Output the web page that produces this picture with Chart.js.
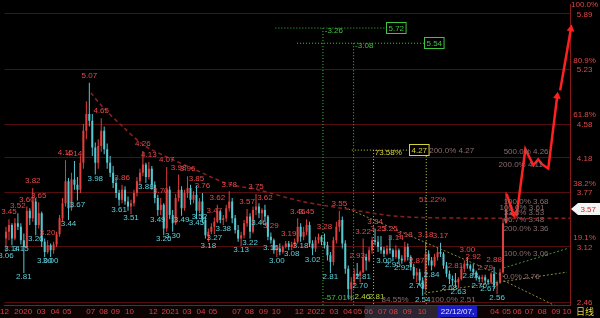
<!DOCTYPE html>
<html>
<head>
<meta charset="utf-8">
<script src="https://cdn.jsdelivr.net/npm/chart.js@4.4.0/dist/chart.umd.min.js"></script>
<style>
  html, body { margin: 0; padding: 0; background: #000; }
</style>
</head>
<body>
<canvas id="chart" width="600" height="318"></canvas>
<script>
// --- candles (one bar per week, x = week index) ---
const opens  = [3.22,3.30,3.38,3.22,3.40,3.36,3.20,3.12,3.55,3.46,3.66,3.38,3.52,3.18,3.06,3.14,3.08,3.15,3.27,3.46,
                3.64,3.90,3.58,3.92,3.86,3.80,4.12,4.50,4.70,4.62,4.30,4.12,4.32,4.50,4.28,4.12,4.00,3.88,3.76,3.68,
                3.80,3.66,3.60,3.64,3.76,3.90,4.00,4.10,3.95,4.05,3.86,3.70,3.56,3.62,3.34,3.80,3.50,3.40,3.70,3.80,
                3.58,3.76,3.82,3.68,3.74,3.55,3.66,3.44,3.26,3.30,3.36,3.42,3.54,3.44,3.46,3.58,3.66,3.46,3.32,3.22,
                3.26,3.40,3.48,3.30,3.56,3.60,3.52,3.56,3.48,3.24,3.20,3.08,3.10,3.06,3.12,3.16,3.12,3.15,3.18,3.36,
                3.24,3.30,3.38,3.16,3.10,3.20,3.24,3.18,3.14,3.02,2.94,3.20,3.36,3.44,3.16,2.86,2.62,2.70,2.80,2.78,
                2.82,3.00,2.96,3.08,3.20,3.18,3.12,3.08,3.04,3.10,3.08,3.00,3.08,2.98,2.96,3.12,3.00,2.88,2.78,2.82,
                2.72,2.62,3.04,2.96,2.90,3.00,3.06,3.04,2.90,2.80,2.74,2.72,2.70,2.74,2.86,2.92,2.90,2.86,2.82,2.76,
                2.74,2.76,2.72,2.70,2.80,2.66,2.70,2.82,3.40];
const highs  = [3.36,3.45,3.40,3.46,3.52,3.40,3.28,3.60,3.58,3.82,3.70,3.65,3.54,3.22,3.20,3.16,3.18,3.30,3.50,3.70,
                4.15,3.94,4.00,4.14,3.95,4.20,4.58,4.85,5.07,4.70,4.36,4.40,4.65,4.55,4.35,4.20,4.08,3.95,3.80,3.86,
                3.84,3.72,3.68,3.80,3.95,4.05,4.26,4.12,4.13,4.08,3.90,3.74,3.70,3.64,4.07,3.84,3.56,3.75,3.98,3.84,
                3.80,3.96,3.86,3.78,3.85,3.70,3.76,3.48,3.34,3.40,3.47,3.62,3.56,3.50,3.62,3.78,3.70,3.50,3.38,3.30,
                3.44,3.57,3.52,3.60,3.75,3.64,3.58,3.62,3.50,3.29,3.22,3.14,3.16,3.14,3.19,3.19,3.18,3.22,3.46,3.40,
                3.36,3.45,3.42,3.20,3.24,3.28,3.26,3.28,3.18,3.06,3.24,3.42,3.55,3.48,3.20,2.90,2.76,2.86,2.93,2.84,
                3.22,3.04,3.12,3.24,3.34,3.25,3.25,3.12,3.14,3.25,3.10,3.14,3.10,3.02,3.18,3.16,3.02,2.92,2.87,2.86,
                2.76,3.18,3.08,3.00,3.04,3.12,3.17,3.06,2.94,2.84,2.78,2.81,2.76,2.90,2.96,3.00,2.92,2.92,2.84,2.78,
                2.79,2.79,2.74,2.82,2.88,2.72,2.86,3.46,3.77];
const lows   = [3.06,3.20,3.14,3.20,3.32,3.15,2.81,3.10,3.38,3.42,3.26,3.34,3.12,3.00,3.04,3.00,3.04,3.12,3.24,3.42,
                3.60,3.44,3.55,3.80,3.67,3.76,4.05,4.40,4.55,4.20,3.98,4.05,4.25,4.22,4.05,3.95,3.82,3.70,3.61,3.64,
                3.62,3.55,3.51,3.60,3.72,3.86,3.96,3.88,3.92,3.80,3.64,3.49,3.50,3.26,3.30,3.45,3.30,3.38,3.66,3.49,
                3.55,3.70,3.62,3.64,3.45,3.52,3.40,3.22,3.18,3.27,3.27,3.40,3.40,3.38,3.42,3.54,3.40,3.28,3.18,3.13,
                3.22,3.36,3.22,3.28,3.50,3.46,3.40,3.44,3.20,3.16,3.04,3.00,3.02,3.04,3.10,3.08,3.08,3.12,3.16,3.18,
                3.20,3.26,3.12,3.02,3.06,3.16,3.14,3.10,2.96,2.81,2.90,3.16,3.30,3.10,2.80,2.50,2.48,2.66,2.74,2.70,
                2.81,2.84,2.94,3.04,3.14,3.06,3.04,3.00,3.02,3.04,2.95,2.98,2.94,2.92,2.94,2.96,2.84,2.74,2.70,2.66,
                2.54,2.60,2.90,2.84,2.88,2.96,3.00,2.86,2.76,2.68,2.66,2.64,2.63,2.72,2.82,2.86,2.83,2.78,2.72,2.70,
                2.70,2.68,2.67,2.68,2.62,2.56,2.68,2.80,3.40];
const closes = [3.30,3.38,3.22,3.40,3.36,3.20,3.12,3.55,3.46,3.66,3.38,3.52,3.18,3.06,3.14,3.08,3.15,3.27,3.46,3.64,
                3.90,3.58,3.92,3.86,3.80,4.12,4.50,4.70,4.62,4.30,4.12,4.32,4.50,4.28,4.12,4.00,3.88,3.76,3.68,3.80,
                3.66,3.60,3.64,3.76,3.90,4.00,4.10,3.95,4.05,3.86,3.70,3.56,3.62,3.34,3.80,3.50,3.40,3.70,3.80,3.58,
                3.76,3.82,3.68,3.74,3.55,3.66,3.44,3.26,3.30,3.36,3.42,3.54,3.44,3.46,3.58,3.66,3.46,3.32,3.22,3.26,
                3.40,3.48,3.30,3.56,3.60,3.52,3.56,3.48,3.24,3.20,3.08,3.10,3.06,3.12,3.16,3.12,3.15,3.18,3.36,3.24,
                3.30,3.38,3.16,3.10,3.20,3.24,3.18,3.14,3.02,2.94,3.20,3.36,3.44,3.16,2.86,2.62,2.70,2.80,2.78,2.82,
                3.00,2.96,3.08,3.20,3.18,3.12,3.08,3.04,3.10,3.08,3.00,3.08,2.98,2.96,3.12,3.00,2.88,2.78,2.82,2.72,
                2.62,3.04,2.96,2.90,3.00,3.06,3.04,2.90,2.80,2.74,2.72,2.70,2.74,2.86,2.92,2.90,2.86,2.82,2.76,2.74,
                2.76,2.72,2.70,2.80,2.66,2.70,2.82,3.40,3.57];

// labelled swing highs and lows: [week index, price]
const peakMarks = [[1,3.45],[4,3.52],[7,3.60],[9,3.82],[11,3.65],[14,3.20],[20,4.15],[23,4.14],[28,5.07],[32,4.65],
                   [39,3.86],[46,4.26],[48,4.13],[52,3.70],[54,4.07],[58,3.98],[61,3.96],[64,3.85],[66,3.76],[70,3.47],
                   [71,3.62],[75,3.78],[81,3.57],[84,3.75],[87,3.62],[89,3.29],[95,3.19],[98,3.46],[101,3.45],[107,3.28],
                   [112,3.55],[118,2.93],[120,3.22],[124,3.34],[125,3.25],[129,3.25],[131,3.14],[134,3.18],[138,2.87],
                   [141,3.18],[146,3.17],[151,2.81],[155,3.00],[157,2.92],[161,2.79],[164,2.88]];
const troughMarks = [[0,3.06],[2,3.14],[5,3.15],[6,2.81],[10,3.26],[13,3.00],[15,3.00],[21,3.44],[24,3.67],[30,3.98],
                     [38,3.61],[42,3.51],[47,3.88],[51,3.49],[53,3.26],[56,3.30],[59,3.49],[65,3.52],[64,3.45],[68,3.18],
                     [70,3.27],[73,3.38],[79,3.13],[82,3.22],[85,3.46],[89,3.16],[91,3.00],[96,3.08],[99,3.18],[103,3.02],
                     [109,2.81],[119,2.70],[120,2.81],[127,3.00],[130,2.95],[133,2.92],[138,2.70],[140,2.54],[143,2.84],
                     [149,2.68],[152,2.63],[156,2.83],[159,2.70],[162,2.67],[165,2.56]];

// time axis (week positions of the month labels)
const monthTicks  = [0,6.3,12.3,17,21,29,33.3,37.3,42,50,55.7,61.3,66,70,78,82.3,87,91.3,99,104.7,
                     110.7,115.3,118.7,122.3,127,130.7,135.3,140.3,164.7,168.7,172.3,176.3,180.7,185.3,189];
const monthLabels = ['12','2020','03','04','05','07','08','09','10','12','2021','03','04','05','07','08','09','10','12','2022',
                     '03','04','05','06','07','08','09','10','04','05','06','07','08','09','10'];

// right axis: retracement levels
const fibPrices   = [5.89, 5.23, 4.58, 4.18, 3.77, 3.12, 2.46];
const fibPercents = ['100.0%', '80.9%', '61.8%', '', '38.2%', '19.1%', ''];

// long dashed trend curve from the 2020 top
const trendX = [29, 33.3, 40, 46.7, 53.3, 63.3, 75, 85, 100, 113.3, 133.3, 166.7, 190];
const trendY = [4.95, 4.77, 4.54, 4.33, 4.21, 4.05, 3.87, 3.80, 3.66, 3.58, 3.48, 3.46, 3.46];

// drawn guide segments [x1, y1, x2, y2]
const greenGuides  = [[91,5.72,128.3,5.72],[98.3,5.54,141,5.54],[107,5.72,107,2.43],[117.3,5.54,117.3,2.43]];
const yellowGuides = [[116.7,4.27,136,4.27],[124,4.27,124,2.43],[141.7,4.27,141.7,2.43]];
const wedgeGuides  = [[114.3,3.59,168.3,2.76],[141,2.57,189,2.82],[167.7,2.72,185.7,2.41]];
const riseGuides   = [[167.7,2.87,189,3.10]];

// projection strokes drawn by hand
const arrowA = {x: [168.7, 171], y: [3.75, 3.51]};
const arrowB = {x: [172, 175, 177.7, 179.3, 180.7, 182.7, 185.7], y: [3.48, 4.28, 4.09, 4.16, 4.10, 4.05, 4.91]};
const arrowC = {x: [186.7, 190.3], y: [4.98, 5.71]};

// text notes [text, x, price, kind]
const notes = [
  ['-3.26', 107.6, 5.69, 'green'], ['-3.08', 117.8, 5.51, 'green'], ['-57.01%', 107.4, 2.51, 'green'],
  ['2.46', 117.6, 2.53, 'lime'], ['2.81', 122.4, 2.53, 'lime'],
  ['73.58%', 124.4, 4.235, 'yellow'], ['200.0% 4.27', 142.7, 4.26, 'gray'], ['51.22%', 139.3, 3.68, 'red'],
  ['500.0% 4.26', 167.7, 4.245, 'gray'], ['200.0% 4.11', 166, 4.10, 'gray'],
  ['100.0% 3.68', 167.7, 3.66, 'gray'], ['100.0% 3.61', 166.3, 3.59, 'gray'], ['33.3% 3.53', 167.7, 3.52, 'gray'],
  ['66.7% 3.48', 167.7, 3.44, 'gray'], ['200.0% 3.36', 167.7, 3.34, 'gray'],
  ['100.0% 3.06', 167.7, 3.04, 'gray'], ['0.0% 2.76', 167.7, 2.76, 'gray'],
  ['84.55%', 126.7, 2.49, 'gray'], ['100.0% 2.51', 143.2, 2.49, 'gray']
];
const boxNotes = [['5.72', 128.3, 5.72, 'green'], ['5.54', 141, 5.54, 'green'], ['4.27', 136, 4.27, 'yellow']];
const dateTag = {text: '22/12/07,', x: 152.2};
const rangeBand = [121, 146.5];

const UP = '#e0403e', DOWN = '#55c8d2';
const INK = {green: '#3fc43f', lime: '#b5d23a', yellow: '#d6d23a', gray: '#8a6c6c', red: '#e04444'};
const FONT = '8px "Liberation Sans", Arial, sans-serif';

const candleColors = closes.map((c, i) => c >= opens[i] ? UP : DOWN);
const pts = (xs, ys) => xs.map((x, i) => ({x: x, y: ys[i]}));

function guideSets(list, color, dash) {
  return list.map(g => ({
    type: 'line', data: [{x: g[0], y: g[1]}, {x: g[2], y: g[3]}],
    borderColor: color, borderWidth: 1, borderDash: dash, pointRadius: 0, order: 4
  }));
}

function arrowSet(a, rotation) {
  const n = a.x.length;
  return {
    type: 'line', data: pts(a.x, a.y), borderColor: '#ff2020', borderWidth: 2.5,
    pointRadius: a.x.map((_, i) => i === n - 1 ? 4.5 : 0), pointStyle: 'triangle',
    pointRotation: rotation, pointBackgroundColor: '#ff2020', pointBorderWidth: 0,
    clip: false, order: 1
  };
}

const tagPlugin = {
  id: 'tags',
  beforeDraw(chart) {
    const {ctx, chartArea: a, width, height} = chart;
    const sx = chart.scales.x;
    ctx.save();
    ctx.fillStyle = '#000';
    ctx.fillRect(0, 0, width, height);
    ctx.fillStyle = '#0e0303';
    ctx.fillRect(0, a.bottom, a.right, height - a.bottom);
    const b0 = sx.getPixelForValue(rangeBand[0]), b1 = sx.getPixelForValue(rangeBand[1]);
    ctx.fillStyle = '#2a2530';
    ctx.fillRect(b0, a.bottom + 1, b1 - b0, height - a.bottom - 1);
    ctx.restore();
  },
  afterDatasetsDraw(chart) {
    const {ctx} = chart;
    const sx = chart.scales.x, sy = chart.scales.y;
    ctx.save();
    ctx.font = FONT;
    ctx.textAlign = 'center';
    ctx.textBaseline = 'middle';
    ctx.fillStyle = '#e8494b';
    peakMarks.forEach(m => ctx.fillText(m[1].toFixed(2), sx.getPixelForValue(m[0] + 0.5), sy.getPixelForValue(m[1]) - 7));
    ctx.fillStyle = '#5dd0dc';
    troughMarks.forEach(m => ctx.fillText(m[1].toFixed(2), sx.getPixelForValue(m[0] + 0.5), sy.getPixelForValue(m[1]) + 4));

    ctx.textAlign = 'left';
    notes.forEach(n => {
      ctx.fillStyle = INK[n[3]];
      ctx.fillText(n[0], sx.getPixelForValue(n[1]), sy.getPixelForValue(n[2]));
    });
    boxNotes.forEach(n => {
      const x = Math.round(sx.getPixelForValue(n[1])), y = Math.round(sy.getPixelForValue(n[2]));
      const w = ctx.measureText(n[0]).width + 4;
      ctx.fillStyle = '#000';
      ctx.fillRect(x, y - 5, w, 11);
      ctx.strokeStyle = INK[n[3]];
      ctx.lineWidth = 1;
      ctx.strokeRect(x + 0.5, y - 5.5, w, 11);
      ctx.fillStyle = INK[n[3]];
      ctx.fillText(n[0], x + 2.5, y + 0.5);
    });
    ctx.restore();
  },
  afterDraw(chart) {
    const {ctx, chartArea: a, width, height} = chart;
    const sx = chart.scales.x, sy = chart.scales.y;
    ctx.save();
    ctx.font = FONT;
    ctx.textBaseline = 'middle';
    // last price tag
    const last = closes[closes.length - 1];
    const ty = Math.round(sy.getPixelForValue(last));
    ctx.fillStyle = '#f4f4f4';
    ctx.beginPath();
    ctx.moveTo(a.right + 1, ty);
    ctx.lineTo(a.right + 8, ty - 6);
    ctx.lineTo(width, ty - 6);
    ctx.lineTo(width, ty + 6);
    ctx.lineTo(a.right + 8, ty + 6);
    ctx.closePath();
    ctx.fill();
    ctx.fillStyle = '#e02020';
    ctx.textAlign = 'right';
    ctx.fillText(last.toFixed(2), width - 4, ty + 0.5);
    // cursor date
    const cx = sx.getPixelForValue(dateTag.x);
    const tw = ctx.measureText(dateTag.text).width + 6;
    ctx.fillStyle = '#1c1cc4';
    ctx.fillRect(Math.round(cx - tw / 2), a.bottom + 1, Math.round(tw), height - a.bottom - 2);
    ctx.fillStyle = '#dfe4ff';
    ctx.textAlign = 'center';
    ctx.fillText(dateTag.text, cx, (a.bottom + height) / 2 + 0.5);
    // period label
    ctx.fillStyle = '#e6d83a';
    ctx.font = '9px "Noto Sans CJK SC", sans-serif';
    ctx.fillText('日线', (a.right + width) / 2, (a.bottom + height) / 2);
    ctx.restore();
  }
};

new Chart(document.getElementById('chart'), {
  type: 'bar',
  data: {
    datasets: [
      arrowSet(arrowA, 162),
      arrowSet(arrowB, 7),
      arrowSet(arrowC, 10),
      {
        type: 'line', data: pts(trendX, trendY), borderColor: '#8c2020', borderWidth: 1.5,
        borderDash: [4, 3], pointRadius: 0, tension: 0.3, order: 3
      },
      ...guideSets(greenGuides, '#3fc43f', [1, 2]),
      ...guideSets(yellowGuides, '#d0cc3a', [1, 2]),
      ...guideSets(wedgeGuides, '#8a8a40', [2, 2]),
      ...guideSets(riseGuides, '#3f8f3f', [2, 2]),
      {
        data: highs.map((h, i) => ({x: i + 0.5, y: [lows[i], h]})),
        backgroundColor: candleColors, barThickness: 1, grouped: false,
        borderWidth: 0, inflateAmount: 0, order: 10
      },
      {
        data: opens.map((o, i) => ({x: i + 0.5, y: [o, closes[i]]})),
        backgroundColor: candleColors, barThickness: 2, grouped: false,
        borderWidth: 0, inflateAmount: 0, minBarLength: 1, order: 9
      }
    ]
  },
  options: {
    responsive: false,
    animation: false,
    layout: {padding: 0},
    plugins: {legend: {display: false}, tooltip: {enabled: false}},
    scales: {
      x: {
        type: 'linear', min: 0, max: 190, offset: false,
        grid: {display: false, drawTicks: false, offset: false},
        border: {display: true, color: '#8a1a1a'},
        afterBuildTicks: axis => { axis.ticks = monthTicks.map(v => ({value: v})); },
        afterFit: axis => { axis.height = 13; axis.paddingLeft = 0; axis.paddingRight = 0; },
        ticks: {
          autoSkip: false, maxRotation: 0, minRotation: 0, padding: 2,
          color: '#d84444', font: {family: '"Liberation Sans", Arial, sans-serif', size: 8},
          callback: (v, i) => monthLabels[i]
        }
      },
      y: {
        type: 'linear', position: 'right', min: 2.43, max: 6.0,
        grid: {color: '#550d0d', drawTicks: false},
        border: {display: true, color: '#8a1a1a'},
        afterBuildTicks: axis => { axis.ticks = fibPrices.map(v => ({value: v})); },
        afterFit: axis => { axis.width = 30; axis.paddingTop = 0; axis.paddingBottom = 0; },
        ticks: {
          padding: 1, crossAlign: 'center', labelOffset: -4,
          color: '#e04848', font: {family: '"Liberation Sans", Arial, sans-serif', size: 8},
          callback: (v, i) => [fibPercents[i], fibPrices[i].toFixed(2)]
        }
      }
    }
  },
  plugins: [tagPlugin]
});
</script>
</body>
</html>
